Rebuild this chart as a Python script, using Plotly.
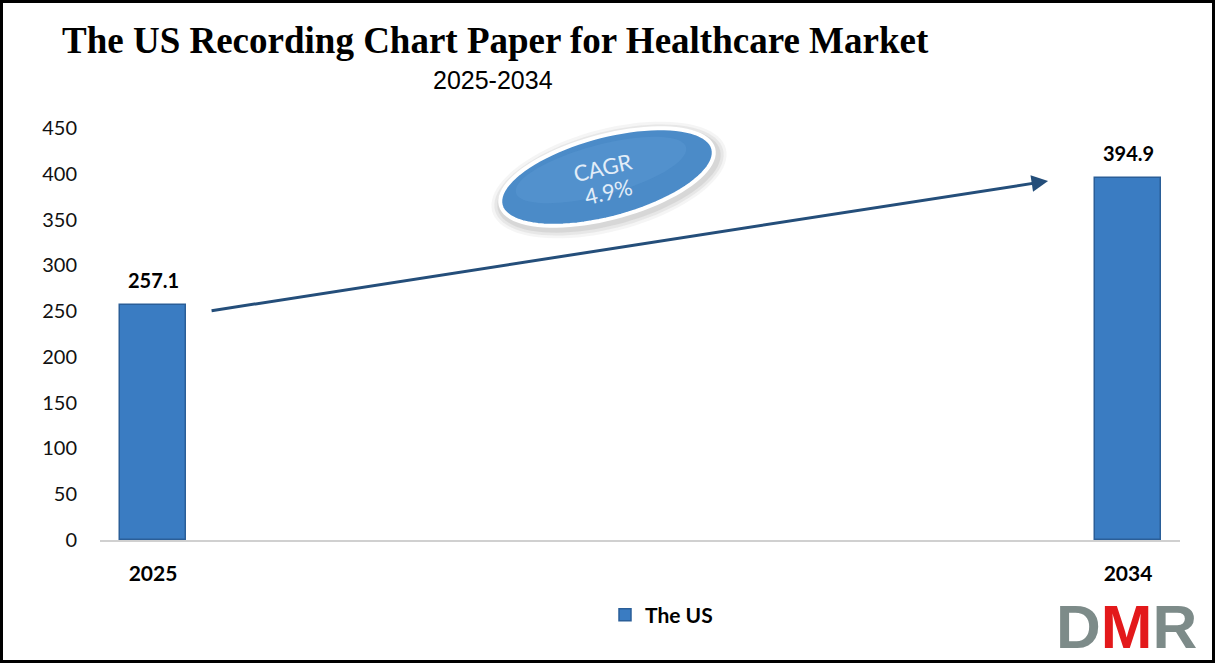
import math
import plotly.graph_objects as go

# ---- data ----
categories = ["2025", "2034"]
values = [257.1, 394.9]
series_name = "The US"
cagr_label = "CAGR"
cagr_value = "4.9%"
title_text = "The US Recording Chart Paper for Healthcare Market"
subtitle_text = "2025-2034"
y_ticks = [0, 50, 100, 150, 200, 250, 300, 350, 400, 450]

# ---- layout geometry (pixels) ----
W, H = 1216, 663
L, R, T, B = 100, 36, 128, 123
PW, PH = W - L - R, H - T - B

def px2paper(px, py):
    return (px - L) / PW, (H - B - py) / PH

BAR_COLOR = "#3A7CC2"
SANS = "Lato, 'Open Sans', sans-serif"

fig = go.Figure()
fig.add_trace(go.Bar(
    x=categories, y=values, name=series_name, width=0.067,
    marker=dict(color=BAR_COLOR, line=dict(color="#2A5E98", width=1.5)),
    showlegend=True,
))

# value labels
for i, v in enumerate(values):
    fig.add_annotation(x=i, y=v, xref="x", yref="y", text=f"<b>{v}</b>", showarrow=False,
                       xanchor="center", yanchor="bottom", yshift=11,
                       font=dict(family=SANS, size=20, color="#000000"))

# ellipse (rotated) for CAGR
def ellipse_path(cx, cy, a, b, ang_deg, n=90):
    t = math.radians(ang_deg)
    pts = []
    for i in range(n):
        f = 2 * math.pi * i / n
        ex = a * math.cos(f)
        ey = b * math.sin(f)
        px = cx + ex * math.cos(t) - ey * math.sin(t)
        py = cy - (ex * math.sin(t) + ey * math.cos(t))
        xp, yp = px2paper(px, py)
        pts.append(f"{xp:.5f},{yp:.5f}")
    return "M" + " L".join(pts) + " Z"

cx, cy = 607, 177
# soft shadow
for k, op in [(10, 0.10), (7, 0.15), (4, 0.2)]:
    fig.add_shape(type="path", xref="paper", yref="paper",
                  path=ellipse_path(cx + 2, cy + 3, 111 + k, 41 + k, 15),
                  fillcolor="#9a9a9a", opacity=op, line=dict(width=0), layer="above")
fig.add_shape(type="path", xref="paper", yref="paper",
              path=ellipse_path(cx, cy, 110, 41, 15),
              fillcolor="#4B8BC8", line=dict(color="#ffffff", width=4), layer="above")
fig.add_shape(type="path", xref="paper", yref="paper",
              path=ellipse_path(cx - 6, cy - 7, 88, 25, 15),
              fillcolor="#5C9AD3", opacity=0.45, line=dict(width=0), layer="above")
for txt, (ppx, ppy) in [(cagr_label, (602, 167)), (cagr_value, (608, 191))]:
    ax_, ay_ = px2paper(ppx, ppy)
    fig.add_annotation(xref="paper", yref="paper", x=ax_, y=ay_, text=txt,
                       xanchor="center", yanchor="middle",
                       showarrow=False, textangle=-13,
                       font=dict(family=SANS, size=22, color="#E2EDF8"))

# growth arrow between the two bars
fig.add_annotation(x=0.918, y=values[1] * 0.993, ax=0.0585, ay=values[0] * 0.973,
                   xref="x", yref="y", axref="x", ayref="y",
                   showarrow=True, arrowhead=2, arrowsize=1.1, arrowwidth=3,
                   arrowcolor="#244E7A", text="")

# title & subtitle
tx, ty = px2paper(495, 40)
fig.add_annotation(xref="paper", yref="paper", x=tx, y=ty, text=f"<b>{title_text}</b>",
                   xanchor="center", yanchor="middle",
                   showarrow=False, font=dict(family="'Liberation Serif', serif", size=37, color="#000"))
sx, sy = px2paper(493, 80)
fig.add_annotation(xref="paper", yref="paper", x=sx, y=sy, text=subtitle_text,
                   xanchor="center", yanchor="middle",
                   showarrow=False, font=dict(family="'Liberation Sans Narrow', 'Liberation Sans', sans-serif", size=25, color="#000"))

# DMR logo
gx, gy = px2paper(1126, 626)
fig.add_annotation(xref="paper", yref="paper", x=gx, y=gy,
                   xanchor="center", yanchor="middle",
                   text="<b><span style='color:#7D8B89'>D</span><span style='color:#E3191B'>M</span><span style='color:#7D8B89'>R</span></b>",
                   showarrow=False, font=dict(family="'Liberation Sans', Arial, sans-serif", size=62))

# outer border
bx0, by1 = px2paper(1.5, 1.5)
bx1, by0 = px2paper(W - 2.5, H - 1.5)
fig.add_shape(type="rect", xref="paper", yref="paper", x0=bx0, x1=bx1, y0=by0, y1=by1,
              line=dict(color="#000", width=3), layer="above")

lx, ly = px2paper(605, 615)
fig.update_layout(
    width=W, height=H,
    margin=dict(l=L, r=R, t=T, b=B, pad=0),
    paper_bgcolor="#ffffff", plot_bgcolor="#ffffff",
    showlegend=True,
    legend=dict(orientation="h", x=lx, y=ly, xanchor="left", yanchor="middle",
                font=dict(family=SANS, size=21, color="#000", weight="bold")),
    xaxis=dict(type="category", range=[-0.0544, 1.0533], showgrid=False,
               showline=True, linecolor="#D0D0D0", linewidth=1.5,
               ticks="", ticklabelstandoff=14,
               tickfont=dict(family=SANS, size=21, color="#000", weight="bold")),
    yaxis=dict(range=[0, 450], tickvals=y_ticks, showgrid=False, showline=False,
               zeroline=False, ticks="", ticklabelstandoff=22,
               tickfont=dict(family=SANS, size=20, color="#111")),
    bargap=0,
)

fig.write_html("out.html", config={"displayModeBar": False},
               post_script="document.body.style.margin='0';")
